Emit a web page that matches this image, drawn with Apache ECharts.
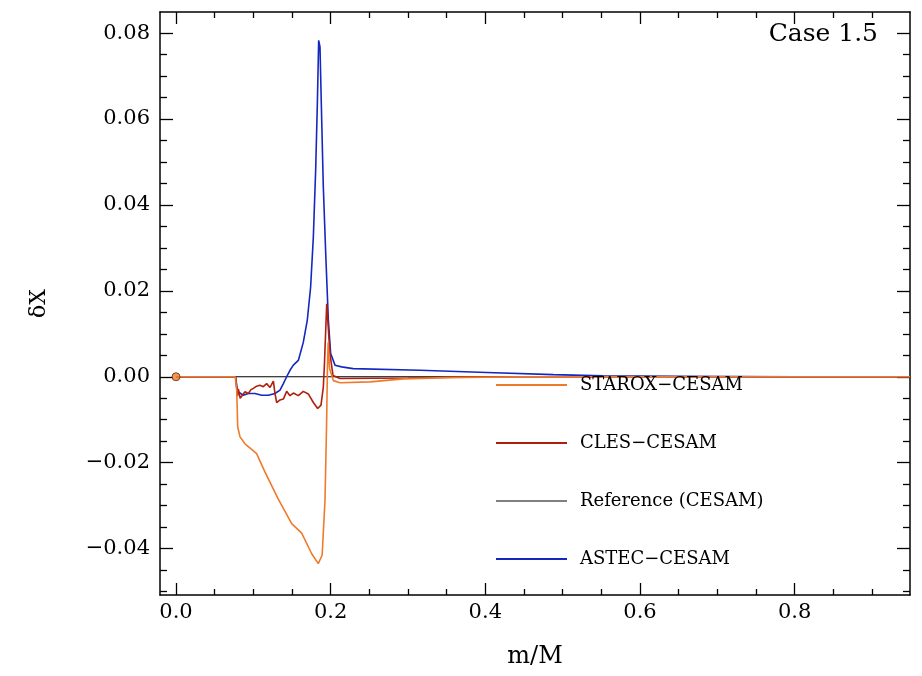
<!DOCTYPE html>
<html>
<head>
<meta charset="utf-8">
<script src="https://cdn.jsdelivr.net/npm/echarts@6/dist/echarts.min.js"></script>
<style>
  html, body { margin: 0; padding: 0; background: #fff; }
  #main { width: 922px; height: 676px; }
</style>
</head>
<body>
<div id="main"></div>
<script>
// axis ticks and labels
var xMajor = [0, 0.2, 0.4, 0.6, 0.8];
var xMinor = [0.05, 0.1, 0.15, 0.25, 0.3, 0.35, 0.45, 0.5, 0.55, 0.65, 0.7, 0.75, 0.85, 0.9];
var yMajor = [-0.04, -0.02, 0, 0.02, 0.04, 0.06, 0.08];
var yMinor = [-0.05, -0.045, -0.035, -0.03, -0.025, -0.015, -0.01, -0.005, 0.005, 0.01, 0.015,
              0.025, 0.03, 0.035, 0.045, 0.05, 0.055, 0.065, 0.07, 0.075];

var seriesNames = ['STAROX\u2212CESAM', 'CLES\u2212CESAM', 'Reference (CESAM)', 'ASTEC\u2212CESAM'];

// m/M, dX
var starox = [[0, 0], [0.0765, 0], [0.0785, -0.003], [0.0798, -0.0117], [0.0828, -0.014], [0.0892, -0.0156],
  [0.097, -0.0168], [0.1043, -0.0179], [0.1151, -0.0222], [0.1323, -0.0285], [0.1496, -0.0342],
  [0.1625, -0.0364], [0.1755, -0.0412], [0.184, -0.0435], [0.189, -0.0415], [0.1927, -0.0287],
  [0.1949, -0.0094], [0.1958, 0.002], [0.1968, 0.008], [0.1985, 0.002], [0.2035, -0.0009],
  [0.212, -0.0014], [0.251, -0.0012], [0.294, -0.0005], [0.35, -0.0002], [0.45, 0], [0.949, 0]];

var cles = [[0, 0], [0.077, 0], [0.0795, -0.0045], [0.0806, -0.0028], [0.083, -0.005], [0.085, -0.0047],
  [0.0892, -0.0035], [0.0935, -0.0039], [0.097, -0.003], [0.1, -0.0027], [0.1043, -0.0022],
  [0.1086, -0.002], [0.1129, -0.0023], [0.1172, -0.0016], [0.1216, -0.0025], [0.1259, -0.001],
  [0.128, -0.0039], [0.1302, -0.006], [0.1345, -0.0054], [0.1388, -0.0052], [0.1431, -0.0034],
  [0.1474, -0.0044], [0.1517, -0.0038], [0.1582, -0.0044], [0.1646, -0.0034], [0.1711, -0.004],
  [0.1776, -0.006], [0.1832, -0.0074], [0.1875, -0.0066], [0.1905, -0.0024], [0.1918, 0.0023],
  [0.1949, 0.017], [0.1991, 0.0054], [0.203, 0.0003], [0.212, -0.0004], [0.3, -0.0003],
  [0.4, 0], [0.949, 0]];

var reference = [[0, 0], [0.949, 0]];

var astec = [[0, 0], [0.077, 0], [0.0793, -0.003], [0.0806, -0.0035], [0.087, -0.0043], [0.0935, -0.0039],
  [0.1022, -0.0039], [0.1108, -0.0043], [0.1194, -0.0043], [0.128, -0.0039], [0.1345, -0.0031],
  [0.1388, -0.0016], [0.1431, 0], [0.1474, 0.0015], [0.1517, 0.0027], [0.1539, 0.0031],
  [0.1582, 0.0038], [0.1646, 0.008], [0.1698, 0.0132], [0.1741, 0.0209], [0.1776, 0.0325],
  [0.1806, 0.0481], [0.1828, 0.0636], [0.1845, 0.0783], [0.1862, 0.0768], [0.1879, 0.0636],
  [0.1905, 0.0442], [0.1936, 0.0287], [0.197, 0.0132], [0.2, 0.0054], [0.2056, 0.0027],
  [0.2142, 0.0023], [0.229, 0.0019], [0.3155, 0.0015], [0.4018, 0.001], [0.488, 0.0005],
  [0.552, 0.0002], [0.65, 0.0001], [0.8, 0], [0.949, 0]];

var centerDot = [[0, 0]];

var FONT = 'DejaVu Serif';

function yLabel(v) {
  var s = Math.abs(v).toFixed(2);
  return v < -1e-9 ? '\u2212' + s : s;
}

function mkAxis(dim, pos, ticks, len, showLine, labels) {
  var ax = {
    type: 'value',
    position: pos,
    min: dim === 'x' ? -0.0207 : -0.0508,
    max: dim === 'x' ? 0.9492 : 0.0849,
    axisLine: { show: showLine, onZero: false, lineStyle: { color: '#000', width: 1.5 } },
    axisTick: { show: true, inside: true, length: len, customValues: ticks, lineStyle: { color: '#000', width: 1.3 } },
    axisLabel: { show: false },
    splitLine: { show: false }
  };
  if (labels) {
    ax.axisLabel = {
      show: true,
      customValues: labels,
      color: '#000',
      fontFamily: FONT,
      fontSize: 21,
      margin: dim === 'x' ? 7 : 10,
      formatter: dim === 'x' ? function (v) { return v.toFixed(1); } : yLabel
    };
  }
  return ax;
}

var xAxes = [
  mkAxis('x', 'bottom', xMajor, 12, true, xMajor),
  mkAxis('x', 'bottom', xMinor, 6, false),
  mkAxis('x', 'top', xMajor, 12, true),
  mkAxis('x', 'top', xMinor, 6, false)
];
xAxes[0].name = 'm/M';
xAxes[0].nameLocation = 'middle';
xAxes[0].nameGap = 50;
xAxes[0].nameTextStyle = { color: '#000', fontFamily: FONT, fontSize: 24 };

var yAxes = [
  mkAxis('y', 'left', yMajor, 13, true, yMajor),
  mkAxis('y', 'left', yMinor, 7, false),
  mkAxis('y', 'right', yMajor, 13, true),
  mkAxis('y', 'right', yMinor, 7, false)
];
yAxes[0].name = '\u03b4X';
yAxes[0].nameLocation = 'middle';
yAxes[0].nameGap = 110;
yAxes[0].nameTextStyle = { color: '#000', fontFamily: FONT, fontSize: 22 };

function lineSeries(name, data, color, width) {
  return {
    name: name,
    type: 'line',
    data: data,
    showSymbol: false,
    symbol: 'none',
    lineStyle: { color: color, width: width },
    itemStyle: { color: color },
    animation: false
  };
}

var chart = echarts.init(document.getElementById('main'), null, { renderer: 'canvas' });
chart.setOption({
  backgroundColor: '#fff',
  animation: false,
  grid: { left: 160, right: 12, top: 12, bottom: 81, containLabel: false },
  xAxis: xAxes,
  yAxis: yAxes,
  legend: {
    orient: 'vertical',
    left: 491,
    top: 371,
    icon: 'rect',
    itemWidth: 71,
    itemHeight: 2,
    itemGap: 40,
    selectedMode: false,
    textStyle: { color: '#000', fontFamily: FONT, fontSize: 18, padding: [0, 0, 0, 8] },
    data: [
      { name: seriesNames[0] },
      { name: seriesNames[1] },
      { name: seriesNames[2], itemStyle: { color: '#808080' } },
      { name: seriesNames[3] }
    ]
  },
  graphic: [{
    type: 'text',
    right: 44,
    top: 22,
    style: { text: 'Case 1.5', fill: '#000', font: '25px "DejaVu Serif"' }
  }],
  series: [
    lineSeries(seriesNames[2], reference, '#000', 1.2),
    lineSeries(seriesNames[3], astec, '#1428c0', 1.6),
    lineSeries(seriesNames[1], cles, '#b01e0e', 1.6),
    lineSeries(seriesNames[0], starox, '#f07a2c', 1.6),
    {
      type: 'scatter',
      data: centerDot,
      symbolSize: 8,
      itemStyle: { color: '#f07a2c', borderColor: '#5a2a10', borderWidth: 1 },
      z: 5
    }
  ]
});
</script>
</body>
</html>
